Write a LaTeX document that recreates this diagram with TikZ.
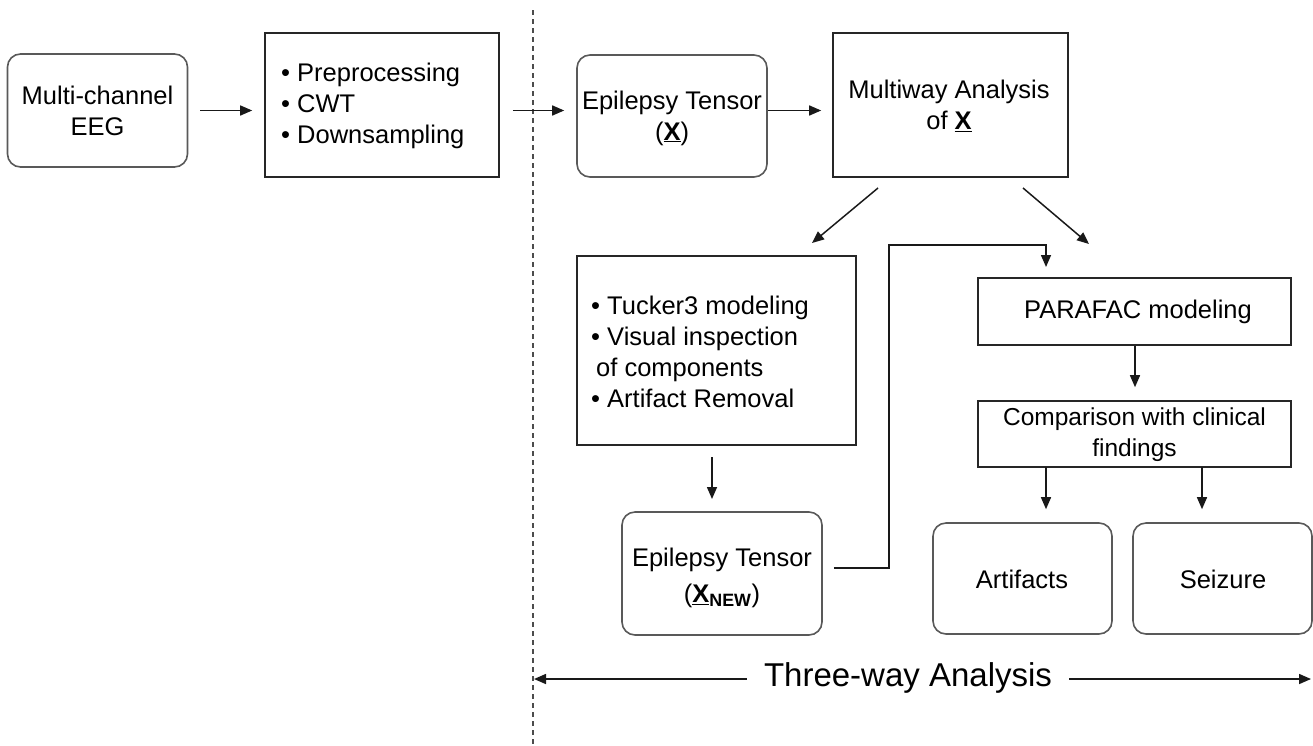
\documentclass[tikz,border=0pt]{standalone}
\usepackage{fontspec}
\setmainfont{Liberation Sans}
\usetikzlibrary{arrows.meta,calc}
\begin{document}
\begin{tikzpicture}[x=1pt,y=-1pt,
  every node/.style={font=\fontsize{25.5}{31}\selectfont, inner sep=0pt},
  rbox/.style={draw=black!65, line width=1.6pt, rounded corners=13pt},
  sbox/.style={draw=black!85, line width=1.6pt},
  txt/.style={align=left, anchor=west},
  arr/.style={draw=black!90, line width=1.5pt, -{Triangle[length=12pt,width=10pt]}},
  plain/.style={draw=black!90, line width=1.5pt}]
\useasboundingbox (0,0) rectangle (1313,745);

% dashed divider
\coordinate (dtop) at (533,10);
\coordinate (dbot) at (533,745);
\draw[black!70, line width=1.1pt, dash pattern=on 5pt off 4pt] (dtop) -- (dbot);

% boxes
\node[rbox, minimum width=180pt, minimum height=113pt, align=center] (mc) at (97.5,110.5) {Multi-channel\\EEG};
\node[sbox, minimum width=234pt, minimum height=144pt] (pre) at (382,105) {};
\node[txt] (pretxt) at (281,106) {\textbullet{} Preprocessing\\\textbullet{} CWT\\\textbullet{} Downsampling};

\node[rbox, minimum width=190pt, minimum height=122pt] (epi) at (672,116) {};
\node[align=center] (epitxt) at (672,118) {Epilepsy Tensor\\(\underline{\textbf{X}})};

\node[sbox, minimum width=235pt, minimum height=144pt] (mw) at (950.5,105) {};
\node[align=center] (mwtxt) at (949,106) {Multiway Analysis\\of \underline{\textbf{X}}};

\node[sbox, minimum width=279pt, minimum height=189pt] (tk) at (716.5,350.5) {};
\node[txt] (tktxt) at (591,352) {\textbullet{} Tucker3 modeling\\\textbullet{} Visual inspection\\\hspace*{5pt}of components\\\textbullet{} Artifact Removal};

\node[rbox, minimum width=200pt, minimum height=123pt] (xn) at (722,573.5) {};
\node[align=center, font=\fontsize{25.5}{36}\selectfont] (xntxt) at (722,578) {Epilepsy Tensor\\(\underline{\textbf{X}}\textsubscript{\textbf{NEW}})};

\node[sbox, minimum width=313pt, minimum height=67pt] (pf) at (1134.5,311.5) {};
\node (pftxt) at (1138,312) {PARAFAC modeling};

\node[sbox, minimum width=313pt, minimum height=66pt] (cp) at (1134.5,434) {};
\node[align=center, font=\fontsize{24.5}{31}\selectfont] (cptxt) at (1134.5,435) {Comparison with clinical\\findings};

\node[rbox, minimum width=179pt, minimum height=111pt] (af) at (1022.5,578.5) {};
\node (aftxt) at (1022,579) {Artifacts};
\node[rbox, minimum width=179pt, minimum height=111pt] (sz) at (1222.5,578.5) {};
\node (sztxt) at (1223,579) {Seizure};

% horizontal arrows
\draw[arr, shorten <=12pt, shorten >=12pt] (mc.east) -- (mc.east -| pre.west);
\draw[arr, shorten <=13pt, shorten >=12pt] (pre.east |- mc.east) -- (epi.west |- mc.east);
\draw[arr, shorten >=11pt] (epi.east |- mc.east) -- (mw.west |- mc.east);

% diagonal arrows
\coordinate (d1s) at (878,188);
\coordinate (d1e) at (812,243);
\coordinate (d2s) at (1023,188);
\coordinate (d2e) at (1089,244);
\draw[arr] (d1s) -- (d1e);
\draw[arr] (d2s) -- (d2e);

% Tucker -> Xnew
\coordinate (t1) at (712,457);
\coordinate (t2) at (712,499);
\draw[arr] (t1) -- (t2);

% Xnew -> PARAFAC elbow connector
\coordinate (e1) at (889,245);
\coordinate (e2) at (1046,267);
\draw[arr, shorten <=11pt] ([yshift=5.5pt]xn.east) -| (e1) -| (e2);

% PARAFAC -> comparison
\draw[arr, shorten >=13pt] ([xshift=0.5pt]pf.south) -- ([xshift=0.5pt]cp.north);

% comparison -> results
\coordinate (a1) at (1046,467);
\coordinate (a2) at (1202,467);
\draw[arr, shorten >=13pt] (a1) -- (a1 |- af.north);
\draw[arr, shorten >=13pt] (a2) -- (a2 |- sz.north);

% three-way analysis
\node[font=\fontsize{33}{40}\selectfont, anchor=base, inner xsep=17pt] (tw) at (908,686) {Three-way Analysis};
\coordinate (twl) at (534,679);
\coordinate (twr) at (1311,679);
\draw[arr] (tw.west |- twl) -- (twl);
\draw[arr] (tw.east |- twr) -- (twr);
\end{tikzpicture}
\end{document}
